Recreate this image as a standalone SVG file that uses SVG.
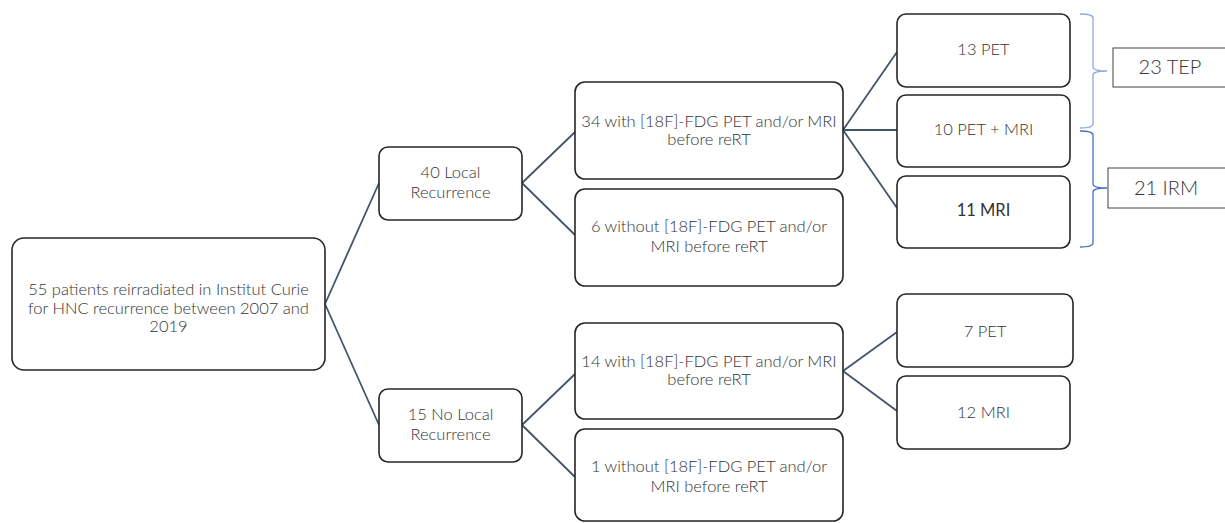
<svg xmlns="http://www.w3.org/2000/svg" width="1225" height="523" viewBox="0 0 1225 523">
<style>
.box{fill:#fff;stroke:#262626;stroke-width:1.6}
.sq{fill:#fff;stroke:#404040;stroke-width:1}
.t{font-family:Lato,"Liberation Sans",sans-serif;font-size:16.5px;fill:#333;text-anchor:middle;font-weight:300}
.tb{font-family:Lato,"Liberation Sans",sans-serif;font-size:20px;fill:#333;text-anchor:middle;font-weight:300}
.c{stroke:#44546A;stroke-width:1.8;fill:none}
</style>
<rect width="1225" height="523" fill="#fff"/>
<g id="connectors">
<path class="c" d="M325,304 L379,183 M325,304 L379,425"/>
<path class="c" d="M522,183 L575,132 M522,183 L575,235"/>
<path class="c" d="M522,425 L575,374 M522,425 L575,477"/>
<path class="c" d="M843,130 L897,52 M843,130 L897,130 M843,130 L897,208"/>
<path class="c" d="M843,371 L897,332 M843,371 L897,411"/>
<path d="M1080,14 Q1093,14 1093,18 L1093,67 Q1093,71 1107,71 Q1093,71 1093,75 L1093,124 Q1093,128 1080,128" fill="none" stroke="#8EA9DB" stroke-width="1.3"/>
<path d="M1080,131 Q1093,131 1093,135 L1093,184 Q1093,188 1107,188 Q1093,188 1093,192 L1093,243 Q1093,247 1080,247" fill="none" stroke="#4472C4" stroke-width="1.3"/>
</g>
<g id="root"><rect class="box" x="12" y="238" width="313" height="132" rx="12"/>
<text class="t" x="168.5" y="295">55 patients reirradiated in Institut Curie</text>
<text class="t" x="168.5" y="314">for HNC recurrence between 2007 and</text>
<text class="t" x="168.5" y="332">2019</text></g>
<g id="local"><rect class="box" x="379" y="147" width="143" height="73" rx="9"/>
<text class="t" x="450.5" y="178">40 Local</text><text class="t" x="450.5" y="198">Recurrence</text></g>
<g id="nolocal"><rect class="box" x="379" y="389" width="143" height="73" rx="9"/>
<text class="t" x="450.5" y="420">15 No Local</text><text class="t" x="450.5" y="440">Recurrence</text></g>
<g id="with34"><rect class="box" x="575" y="82" width="268" height="97" rx="10"/>
<text class="t" x="709" y="127">34 with [18F]-FDG PET and/or MRI</text><text class="t" x="709" y="145">before reRT</text></g>
<g id="without6"><rect class="box" x="575" y="189" width="268" height="97" rx="10"/>
<text class="t" x="709" y="232">6 without [18F]-FDG PET and/or</text><text class="t" x="709" y="252">MRI before reRT</text></g>
<g id="with14"><rect class="box" x="575" y="323" width="268" height="96" rx="10"/>
<text class="t" x="709" y="367">14 with [18F]-FDG PET and/or MRI</text><text class="t" x="709" y="385">before reRT</text></g>
<g id="without1"><rect class="box" x="575" y="429" width="268" height="92" rx="10"/>
<text class="t" x="709" y="472">1 without [18F]-FDG PET and/or</text><text class="t" x="709" y="492">MRI before reRT</text></g>
<g id="pet13"><rect class="box" x="897" y="14" width="173" height="73" rx="9"/>
<text class="t" x="983.5" y="55">13 PET</text></g>
<g id="petmri10"><rect class="box" x="897" y="95" width="173" height="72" rx="9"/>
<text class="t" x="983.5" y="135">10 PET + MRI</text></g>
<g id="mri11"><rect class="box" x="897" y="176" width="173" height="72" rx="9"/>
<text class="t" x="983.5" y="216" style="font-weight:400">11 MRI</text></g>
<g id="pet7"><rect class="box" x="897" y="294" width="176" height="73" rx="9"/>
<text class="t" x="985" y="337">7 PET</text></g>
<g id="mri12"><rect class="box" x="897" y="376" width="173" height="73" rx="9"/>
<text class="t" x="983.5" y="418">12 MRI</text></g>
<g id="tep23"><rect class="sq" x="1113" y="48" width="120" height="39"/>
<text class="tb" x="1170" y="74">23 TEP</text></g>
<g id="irm21"><rect class="sq" x="1108" y="168" width="125" height="40"/>
<text class="tb" x="1166" y="195">21 IRM</text></g>
</svg>
